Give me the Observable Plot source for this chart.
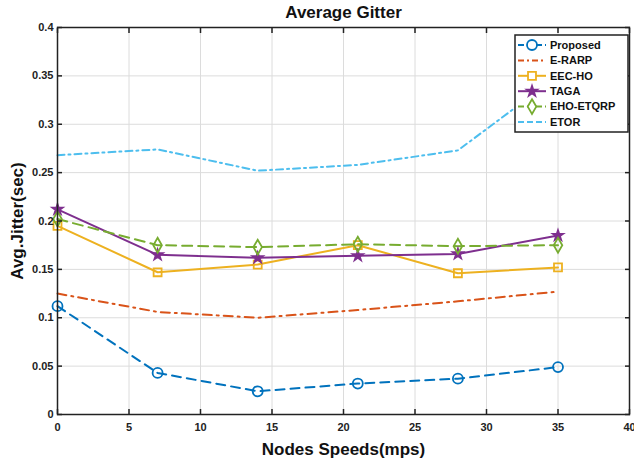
<!DOCTYPE html>
<html>
<head>
<meta charset="utf-8">
<script src="https://cdn.jsdelivr.net/npm/d3@7"></script>
<script src="https://cdn.jsdelivr.net/npm/@observablehq/plot@0.6"></script>
<style>
  html, body { margin: 0; padding: 0; background: #fff; }
  svg { display: block; }
</style>
</head>
<body>
<div id="chart"></div>
<script>
// ---- data ----
const speeds = [0, 7, 14, 21, 28, 35];
const proposed = [0.112, 0.043, 0.024, 0.032, 0.037, 0.049];
const eRarp    = [0.125, 0.106, 0.100, 0.108, 0.117, 0.127];
const eecHo    = [0.195, 0.147, 0.155, 0.175, 0.146, 0.152];
const taga     = [0.212, 0.165, 0.162, 0.164, 0.166, 0.185];
const ehoEtqrp = [0.202, 0.175, 0.173, 0.176, 0.174, 0.175];
const etor     = [0.268, 0.274, 0.252, 0.258, 0.273, 0.350];
const seriesNames = ["Proposed", "E-RARP", "EEC-HO", "TAGA", "EHO-ETQRP", "ETOR"];
const seriesValues = [proposed, eRarp, eecHo, taga, ehoEtqrp, etor];
const xTicks = [0, 5, 10, 15, 20, 25, 30, 35, 40];
const yTicks = [0, 0.05, 0.1, 0.15, 0.2, 0.25, 0.3, 0.35, 0.4];

// ---- styles ----
const styles = {
  "Proposed":  {color: "#0072BD", dash: "9,6",     legendDash: "6,3",     symbol: "circle",  r: 5,   fill: "none"},
  "E-RARP":    {color: "#D95319", dash: "9,5,2,5", legendDash: "6,3,2,3", symbol: null},
  "EEC-HO":    {color: "#EDB120", dash: null,      legendDash: null,      symbol: "square",  r: 4.5, fill: "none"},
  "TAGA":      {color: "#7E2F8E", dash: null,      legendDash: null,      symbol: "star",    r: 3.2, fill: "#7E2F8E"},
  "EHO-ETQRP": {color: "#77AC30", dash: "10,6",    legendDash: "6,3",     symbol: "diamond", r: 4.5, fill: "none"},
  "ETOR":      {color: "#4DBEEE", dash: "7,4,2,4", legendDash: "6,3",     symbol: null}
};

const rows = seriesNames.flatMap((name, i) =>
  speeds.map((s, j) => ({series: name, speed: s, jitter: seriesValues[i][j]})));

const lineMarks = seriesNames.map(name => Plot.line(rows.filter(d => d.series === name), {
  x: "speed", y: "jitter", stroke: styles[name].color, strokeWidth: 2,
  strokeDasharray: styles[name].dash || undefined
}));
const dotMarks = seriesNames.filter(n => styles[n].symbol).map(name => Plot.dot(rows.filter(d => d.series === name), {
  x: "speed", y: "jitter", stroke: styles[name].color, strokeWidth: 1.8,
  fill: styles[name].fill, symbol: () => styles[name].symbol, r: styles[name].r
}));

const plot = Plot.plot({
  width: 634, height: 459,
  marginLeft: 57, marginRight: 5, marginTop: 27, marginBottom: 45,
  style: {fontFamily: "'Liberation Sans', Arial, sans-serif", fontWeight: "bold", fontSize: "11px", color: "#222"},
  x: {domain: [0, 40]},
  y: {domain: [0, 0.4]},
  marks: [
    Plot.gridX(xTicks, {stroke: "#dcdcdc", strokeOpacity: 1, strokeWidth: 1}),
    Plot.gridY(yTicks, {stroke: "#dcdcdc", strokeOpacity: 1, strokeWidth: 1}),
    ...lineMarks,
    ...dotMarks,
    Plot.frame({stroke: "#222", strokeWidth: 1.5}),
    Plot.axisX({ticks: xTicks, tickSize: -5, tickPadding: 14, tickFormat: d => String(d), strokeWidth: 1.5,
      label: "Nodes Speeds(mps)", labelAnchor: "center", labelArrow: "none", labelOffset: 40}),
    Plot.axisX({anchor: "top", ticks: xTicks, tickSize: -5, tickFormat: () => "", strokeWidth: 1.5, label: null}),
    Plot.axisY({ticks: yTicks, tickSize: -5, tickPadding: 9, tickFormat: d => String(d), strokeWidth: 1.5,
      label: "Avg.Jitter(sec)", labelAnchor: "center", labelArrow: "none", labelOffset: 47}),
    Plot.axisY({anchor: "right", ticks: yTicks, tickSize: -5, tickFormat: () => "", strokeWidth: 1.5, label: null}),
    Plot.text(["Average Gitter"], {frameAnchor: "top", dy: -22, fontSize: 17, fontWeight: "bold", fill: "#111"})
  ]
});

document.getElementById("chart").appendChild(plot);

// ---- legend ----
const svg = d3.select(plot);
svg.selectAll("[aria-label='x-axis label'] text, [aria-label='y-axis label'] text")
  .style("font-size", "17px").style("fill", "#111");
const lg = svg.append("g").attr("font-family", "'Liberation Sans', Arial, sans-serif")
  .attr("font-weight", "bold").attr("font-size", 11).attr("text-anchor", "start");
const lx = 515, ly = 35, lw = 113, lh = 97;
lg.append("rect").attr("x", lx).attr("y", ly).attr("width", lw).attr("height", lh)
  .attr("fill", "#fff").attr("stroke", "#222").attr("stroke-width", 1.5);
const symbolTypes = {circle: d3.symbolCircle, square: d3.symbolSquare, star: d3.symbolStar, diamond: d3.symbolDiamond};
seriesNames.forEach((name, i) => {
  const st = styles[name];
  const yy = ly + 10 + i * 15.4;
  lg.append("line").attr("x1", lx + 3).attr("x2", lx + 31).attr("y1", yy).attr("y2", yy)
    .attr("stroke", st.color).attr("stroke-width", 2).attr("stroke-dasharray", st.legendDash);
  if (st.symbol) {
    lg.append("path").attr("d", d3.symbol().type(symbolTypes[st.symbol]).size(st.r * st.r * Math.PI)())
      .attr("transform", `translate(${lx + 17},${yy})`)
      .attr("fill", st.fill === "none" ? "#fff" : st.fill).attr("stroke", st.color).attr("stroke-width", 1.8);
  }
  lg.append("text").attr("x", lx + 35).attr("y", yy).attr("dy", "0.35em").attr("fill", "#111").text(name);
});
</script>
</body>
</html>
